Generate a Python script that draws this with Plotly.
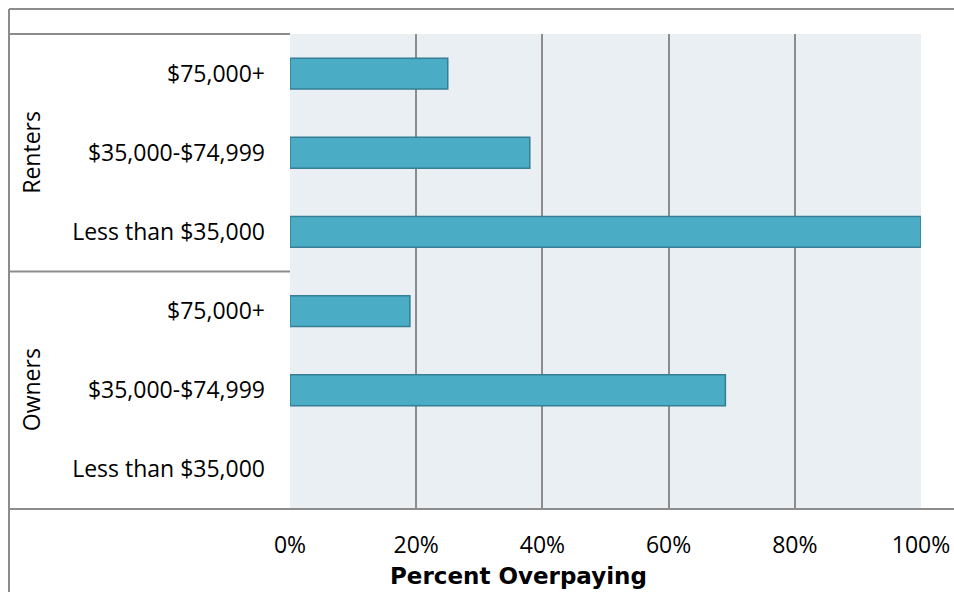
import plotly.graph_objects as go

# Data (bottom to top)
groups = ["Owners", "Owners", "Owners", "Renters", "Renters", "Renters"]
income_labels = ["Less than $35,000", "$35,000-$74,999", "$75,000+",
                 "Less than $35,000", "$35,000-$74,999", "$75,000+"]
pct_overpaying = [None, 69, 19, 100, 38, 25]
x_tick_vals = [0, 20, 40, 60, 80, 100]
x_tick_text = ["0%", "20%", "40%", "60%", "80%", "100%"]
x_title = "Percent Overpaying"

W, H = 954, 592
L, R, T, B = 290, 33, 34, 83
pw, ph = W - L - R, H - T - B

def px_x(x):
    return (x - L) / pw

def px_y(y):
    return (H - B - y) / ph

positions = list(range(len(income_labels)))

fig = go.Figure()
fig.add_trace(go.Bar(
    x=pct_overpaying, y=positions, orientation="h", width=0.39,
    marker=dict(color="#4BACC6", line=dict(color="#357E93", width=1.5)),
    hoverinfo="x+y", showlegend=False,
))

grid = "#8C8C8C"
font = "'Open Sans', sans-serif"

fig.update_layout(
    width=W, height=H,
    margin=dict(l=L, r=R, t=T, b=B, pad=0, autoexpand=False),
    paper_bgcolor="white", plot_bgcolor="#E9EFF2",
    font=dict(family=font, size=23, color="#000000"),
    xaxis=dict(range=[0, 100], tickvals=x_tick_vals, ticktext=x_tick_text,
               showgrid=True, gridcolor=grid, gridwidth=2, zeroline=False,
               showline=False, ticks="", ticklabelstandoff=20, automargin=False,
               tickfont=dict(size=23)),
    yaxis=dict(range=[-0.5, 5.5], tickvals=positions, ticktext=income_labels,
               showgrid=False, zeroline=False, showline=False, ticks="",
               ticklabelstandoff=24, automargin=False, tickfont=dict(size=23)),
)

line = dict(color=grid, width=2)
shapes = [
    # outer frame (clipped by figure edges)
    dict(type="line", xref="paper", yref="paper", x0=px_x(9), x1=px_x(1000), y0=px_y(9), y1=px_y(9), line=line),
    dict(type="line", xref="paper", yref="paper", x0=px_x(9), x1=px_x(9), y0=px_y(9), y1=px_y(700), line=line),
    # category label box
    dict(type="line", xref="paper", yref="paper", x0=px_x(9), x1=0, y0=1, y1=1, line=line),
    dict(type="line", xref="paper", yref="paper", x0=px_x(9), x1=px_x(1000), y0=0, y1=0, line=line),
    dict(type="line", xref="paper", yref="paper", x0=px_x(9), x1=0, y0=0.5, y1=0.5, line=line),
]
fig.update_layout(shapes=shapes)

# group labels
group_names = ["Renters", "Owners"]
group_centers = [0.75, 0.25]
for g, c in zip(group_names, group_centers):
    fig.add_annotation(text=g, xref="paper", yref="paper", x=px_x(31), y=c,
                       textangle=-90, showarrow=False, font=dict(size=23),
                       xanchor="center", yanchor="middle")

# x-axis title
fig.add_annotation(text="<b>" + x_title + "</b>", xref="paper", yref="paper",
                   x=px_x(518), y=px_y(576), showarrow=False,
                   xanchor="center", yanchor="middle",
                   font=dict(family="'DejaVu Sans', sans-serif", size=23))

fig.write_html(
    "out.html",
    config={"displayModeBar": False},
    post_script="document.body.style.margin='0';document.body.style.overflow='hidden';",
)
